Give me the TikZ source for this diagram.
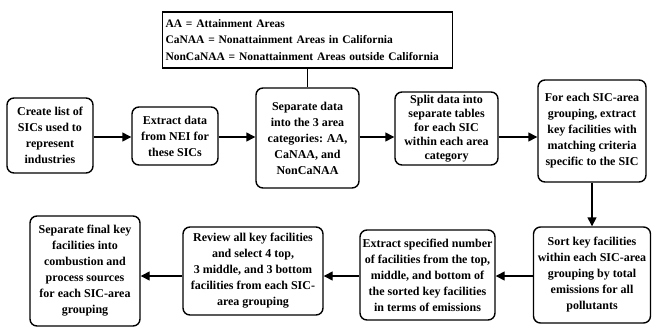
\documentclass[tikz,border=0pt]{standalone}
\usepackage{fontspec}
\setmainfont{Liberation Serif}
\usetikzlibrary{arrows.meta, positioning}

\tikzset{
  stepbox/.style={draw, line width=1.4pt, rounded corners=7pt, align=center,
    font=\bfseries\fontsize{12}{16}\selectfont, inner sep=1pt},
  flowarrow/.style={line width=1.4pt, -{Triangle[length=9pt, width=9pt]}}
}

\begin{document}
\begin{tikzpicture}[x=1pt, y=-1pt]
  \useasboundingbox (0,0) rectangle (652,327);

  % legend of the area names
  \node[draw, line width=1.1pt, align=left, text width=284pt, inner sep=3pt,
        font=\bfseries\fontsize{11.5}{16.5}\selectfont, minimum height=56pt] (legend) at (307.5,40)
        {AA = Attainment Areas\\
         CaNAA = Nonattainment Areas in California\\
         NonCaNAA = Nonattainment Areas outside California};

  % first row
  \node[stepbox, minimum width=86pt, minimum height=75pt] (create) at (50,135.5)
        {Create list of\\SICs used to\\represent\\industries};
  \node[stepbox, minimum width=86pt, minimum height=58pt] (extract) at (175,136)
        {Extract data\\from NEI for\\these SICs};
  \node[stepbox, minimum width=103pt, minimum height=100pt] (separate) at (307.5,138)
        {Separate data\\into the 3 area\\categories: AA,\\CaNAA, and\\NonCaNAA};
  \node[stepbox, minimum width=103pt, minimum height=73pt,
        font=\bfseries\fontsize{12}{14}\selectfont] (split) at (446.5,128.5)
        {Split data into\\separate tables\\for each SIC\\within each area\\category};
  \node[stepbox, minimum width=108pt, minimum height=102pt] (keyfac) at (592,131)
        {For each SIC-area\\grouping, extract\\key facilities with\\matching criteria\\specific to the SIC};

  % second row
  \node[stepbox, minimum width=117pt, minimum height=96pt] (sort) at (592,275)
        {Sort key facilities\\within each SIC-area\\grouping by total\\emissions for all\\pollutants};
  \node[stepbox, minimum width=135pt, minimum height=90pt] (number) at (427.5,275)
        {Extract specified number\\of facilities from the top,\\middle, and bottom of\\the sorted key facilities\\in terms of emissions};
  \node[stepbox, minimum width=140pt, minimum height=88pt] (review) at (253,271)
        {Review all key facilities\\and select 4 top,\\3 middle, and 3 bottom\\facilities from each SIC-\\area grouping};
  \node[stepbox, minimum width=110pt, minimum height=110pt] (final) at (85,271)
        {Separate final key\\facilities into\\combustion and\\process sources\\for each SIC-area\\grouping};

  \coordinate (rowa) at (0,137);
  \coordinate (rowb) at (0,276);

  \draw[line width=1.1pt] (legend.south) -- (separate.north);

  \draw[flowarrow] (create.east |- rowa) -- (extract.west |- rowa);
  \draw[flowarrow] (extract.east |- rowa) -- (separate.west |- rowa);
  \draw[flowarrow] (separate.east |- rowa) -- (split.west |- rowa);
  \draw[flowarrow] (split.east |- rowa) -- (keyfac.west |- rowa);
  \draw[flowarrow] (keyfac) -- (sort);
  \draw[flowarrow] (sort.west |- rowb) -- (number.east |- rowb);
  \draw[flowarrow] (number.west |- rowb) -- (review.east |- rowb);
  \draw[flowarrow] (review.west |- rowb) -- (final.east |- rowb);
\end{tikzpicture}
\end{document}
